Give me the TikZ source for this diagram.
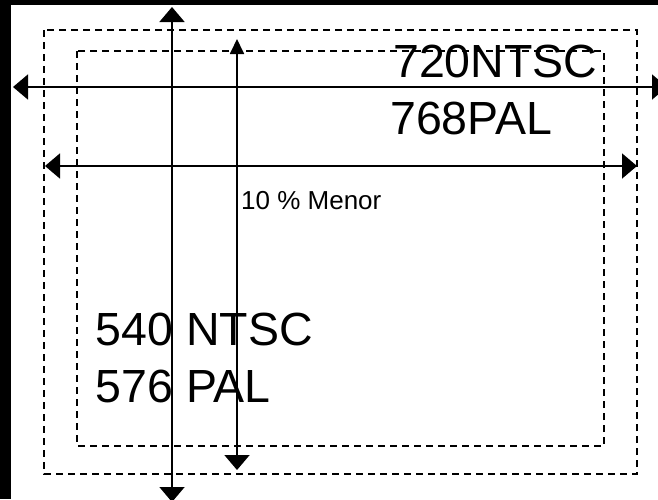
\documentclass[tikz,border=0pt]{standalone}
\usepackage{fontspec}
\setmainfont{Liberation Sans}
\usetikzlibrary{arrows.meta}
\tikzset{
  frame/.style={draw=black, line width=1.6pt, dash pattern=on 7pt off 5pt},
  dimarrow/.style={draw=black, line width=1.8pt},
  bigtext/.style={anchor=base west, inner sep=0pt, font=\fontsize{46.5}{55}\selectfont},
  smalltext/.style={anchor=base west, inner sep=0pt, font=\fontsize{26}{31}\selectfont}
}
\begin{document}
\begin{tikzpicture}[x=1pt,y=-1pt]
\useasboundingbox (0,0) rectangle (658,499);
\fill[white] (0,0) rectangle (658,499);
% black border
\fill[black] (0,0) rectangle (11,499);
\fill[black] (0,0) rectangle (658,5);
% dashed frames
\draw[frame] (44,30) rectangle (637,474);
\draw[frame] (77,51) rectangle (604,446);
% coordinates
\coordinate (hL1) at (13,87);
\coordinate (hR1) at (667,87);
\coordinate (hL2) at (45,166);
\coordinate (hR2) at (637,166);
\coordinate (vT1) at (172,7);
\coordinate (vB1) at (172,502);
\coordinate (vT2) at (237,39);
\coordinate (vB2) at (237,470);
% texts
\node[bigtext] (t1) at (393,77) {720NTSC};
\node[bigtext] (t2) at (390,134) {768PAL};
\node[smalltext] (t3) at (241,209) {10 \% Menor};
\node[bigtext] (t4) at (95.5,345) {540 NTSC};
\node[bigtext] (t5) at (95.5,402) {576 PAL};
% arrows
\draw[dimarrow, {Triangle[length=15pt,width=25pt]}-{Triangle[length=15pt,width=25pt]}] (hL1) -- (hR1);
\draw[dimarrow, {Triangle[length=15pt,width=25pt]}-{Triangle[length=15pt,width=25pt]}] (hL2) -- (hR2);
\draw[dimarrow, {Triangle[length=15pt,width=25pt]}-{Triangle[length=15pt,width=25pt]}] (vT1) -- (vB1);
\draw[dimarrow, {Triangle[length=15pt,width=14pt]}-{Triangle[length=15pt,width=25pt]}] (vT2) -- (vB2);
\end{tikzpicture}
\end{document}
